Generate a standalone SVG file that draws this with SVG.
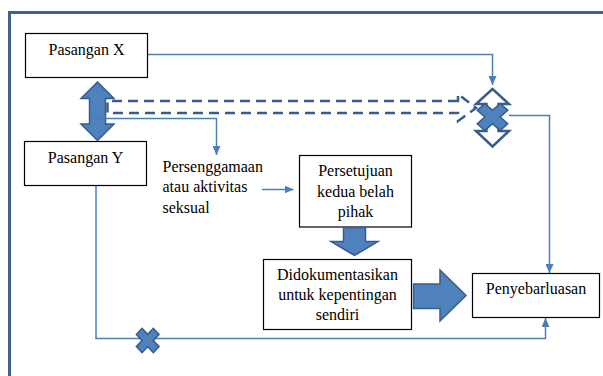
<svg xmlns="http://www.w3.org/2000/svg" width="603" height="376" viewBox="0 0 603 376">
<style>
  .box { fill: #ffffff; stroke: #000000; stroke-width: 1.2; }
  .lbl { font-family: "Liberation Serif", "Times New Roman", serif; font-size: 16px; fill: #000000; }
  .mid { text-anchor: middle; }
  .conn { fill: none; stroke: #4a7ebb; stroke-width: 1.5; }
  .block { fill: #4f81bd; stroke: #385d8a; stroke-width: 1.5; }
  .frame { fill: none; stroke: #41618f; stroke-width: 3; }
</style>
<defs>
  <marker id="arr" markerUnits="userSpaceOnUse" markerWidth="9" markerHeight="8" refX="9" refY="4" orient="auto">
    <path d="M0,0 L9,4 L0,8 z" fill="#4a7ebb"/>
  </marker>
  <polygon id="cross" points="4,-12 4,-4 12,-4 12,4 4,4 4,12 -4,12 -4,4 -12,4 -12,-4 -4,-4 -4,-12"/>
</defs>

<g id="frame">
  <path class="frame" d="M8,12.5 H603 M9.5,12 V376"/>
</g>

<g id="connectors">
  <path class="conn" d="M147.5,54.5 H492.5 V85" marker-end="url(#arr)"/>
  <path class="conn" d="M509,115.5 H549.5 V273" marker-end="url(#arr)"/>
  <path class="conn" d="M96,185.5 V338.5 H545.5 V318" marker-end="url(#arr)"/>
  <path class="conn" d="M262,189.5 H293.5" marker-end="url(#arr)"/>
</g>

<g id="dashed-arrow">
  <path d="M458,101 H107.5 V113 H458 V121 L476,108 L458,94 Z" fill="none" stroke="#385d8a" stroke-width="2.5" stroke-dasharray="10 6"/>
</g>

<g id="double-arrow">
  <polygon class="block" points="97.5,82 114,98.5 105.5,98.5 105.5,124 114,124 97.5,140.5 81,124 89.5,124 89.5,98.5 81,98.5"/>
  <path class="conn" d="M90,118.5 H216.5 V155" marker-end="url(#arr)"/>
</g>

<g id="blocked-merge">
  <polygon points="492.5,89 509,104 498.5,104 498.5,131 509,131 492.5,146.5 476,131 486.5,131 486.5,104 476,104" fill="#ffffff" stroke="#385d8a" stroke-width="2.5"/>
  <use href="#cross" transform="translate(492.5 117) scale(1.35 1.2) rotate(45)" fill="#4f81bd" stroke="#385d8a" stroke-width="1.2"/>
</g>

<g id="blocked-bottom">
  <use href="#cross" transform="translate(147.7 340.5) scale(1 1.08) rotate(45)" fill="#4f81bd" stroke="#385d8a" stroke-width="1.5"/>
</g>

<g id="pasangan-x">
  <rect class="box" x="25.5" y="33.5" width="122" height="44"/>
  <text class="lbl mid" x="86.5" y="54.5">Pasangan X</text>
</g>

<g id="pasangan-y">
  <rect class="box" x="24.5" y="141.5" width="122" height="44"/>
  <text class="lbl mid" x="85.5" y="162.5">Pasangan Y</text>
</g>

<g id="persenggamaan">
  <text class="lbl" x="162.5" y="171.5">Persenggamaan</text>
  <text class="lbl" x="162.5" y="192">atau aktivitas</text>
  <text class="lbl" x="162.5" y="212.5">seksual</text>
</g>

<g id="persetujuan">
  <rect class="box" x="299.5" y="155.5" width="112" height="71.5"/>
  <text class="lbl mid" x="355.5" y="176">Persetujuan</text>
  <text class="lbl mid" x="355.5" y="196.5">kedua belah</text>
  <text class="lbl mid" x="355.5" y="216.5">pihak</text>
</g>

<g id="arrow-down">
  <polygon class="block" points="343.5,227.5 365.5,227.5 365.5,241.5 378,241.5 354.5,255.5 331,241.5 343.5,241.5"/>
</g>

<g id="didokumentasikan">
  <rect class="box" x="263.5" y="259.5" width="148" height="70"/>
  <text class="lbl mid" x="337.5" y="280">Didokumentasikan</text>
  <text class="lbl mid" x="337.5" y="300">untuk kepentingan</text>
  <text class="lbl mid" x="337.5" y="320">sendiri</text>
</g>

<g id="arrow-right">
  <polygon class="block" points="413.5,284 440,284 440,270 466,295.5 440,321 440,308.5 413.5,308.5"/>
</g>

<g id="penyebarluasan">
  <rect class="box" x="472.5" y="273.5" width="127" height="44"/>
  <text class="lbl mid" x="536" y="294">Penyebarluasan</text>
</g>
</svg>
